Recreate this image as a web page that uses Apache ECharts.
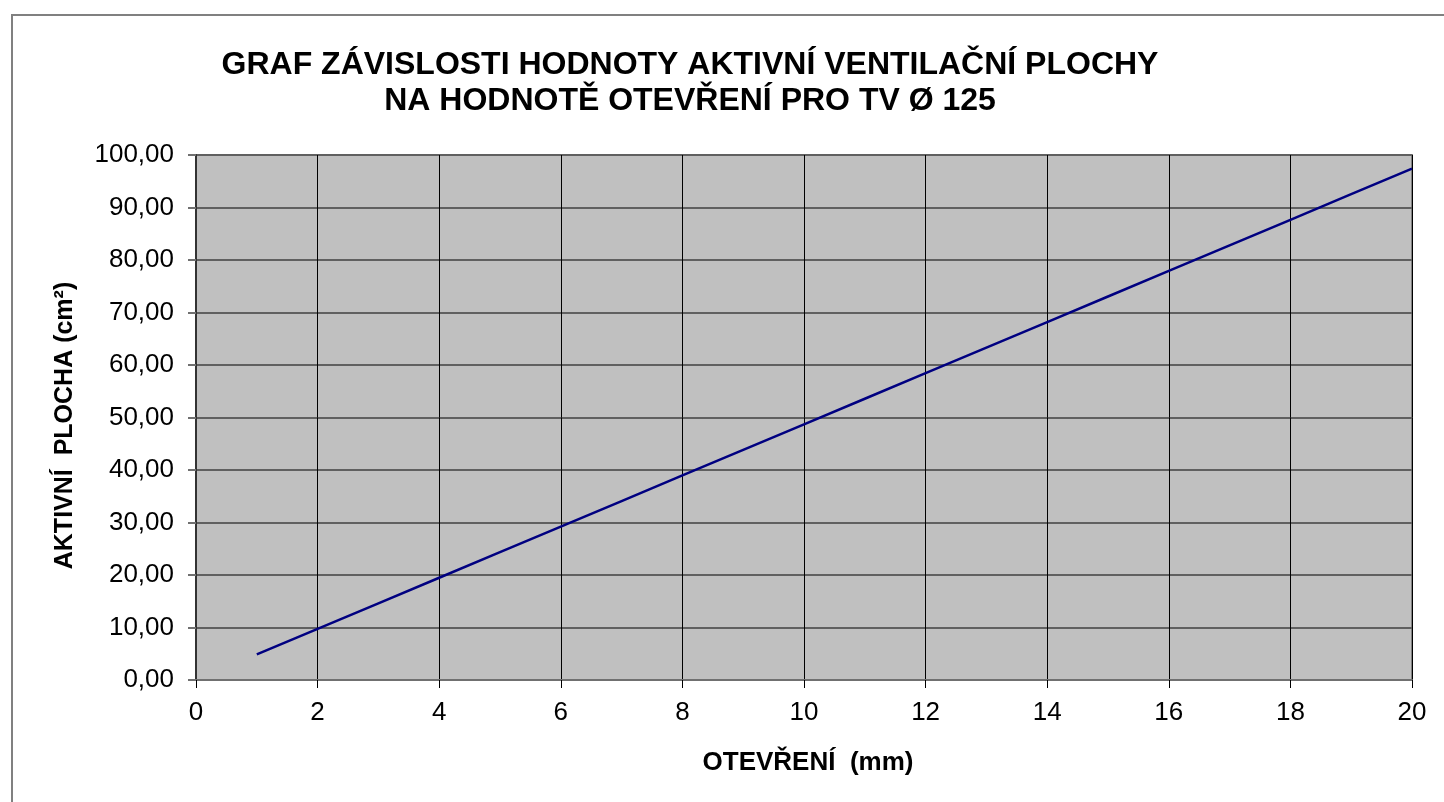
<!DOCTYPE html>
<html>
<head>
<meta charset="utf-8">
<title>Aktivní plocha TV 125</title>
<script src="https://cdn.jsdelivr.net/npm/echarts@6/dist/echarts.min.js"></script>
<style>
  html, body { margin: 0; padding: 0; background: #fff; }
  #main { width: 1444px; height: 802px; }
</style>
</head>
<body>
<div id="main"></div>
<script type="text/javascript">
    // data
    var otevreni = [1, 2, 3, 4, 5, 6, 7, 8, 9, 10, 11, 12, 13, 14, 15, 16, 17, 18, 19, 20];
    var plocha = [4.87, 9.74, 14.61, 19.48, 24.35, 29.22, 34.09, 38.96, 43.83, 48.70,
                  53.57, 58.44, 63.31, 68.18, 73.05, 77.92, 82.79, 87.66, 92.53, 97.40];
    var titleLines = ['GRAF ZÁVISLOSTI HODNOTY AKTIVNÍ VENTILAČNÍ PLOCHY', 'NA HODNOTĚ OTEVŘENÍ PRO TV Ø 125'];

    var seriesData = otevreni.map(function (x, i) { return [x, plocha[i]]; });

    var myChart = echarts.init(document.getElementById('main'));
    var font = '"Liberation Sans", Arial, sans-serif';

    var option = {
        animation: false,
        backgroundColor: '#fff',
        textStyle: { fontFamily: font },
        title: {
            text: titleLines.join('\n'),
            left: 685,
            top: 42,
            textAlign: 'center',
            textStyle: {
                fontFamily: font,
                fontWeight: 'bold',
                fontSize: 32,
                lineHeight: 36,
                color: '#000'
            }
        },
        graphic: [{
            type: 'polyline',
            shape: { points: [[12, 802], [12, 15], [1444, 15]] },
            style: { stroke: '#808080', lineWidth: 2, fill: null },
            silent: true
        }],
        grid: {
            left: 196, right: 32, top: 155, bottom: 122,
            show: true,
            backgroundColor: '#c0c0c0',
            borderColor: '#808080',
            borderWidth: 2
        },
        xAxis: {
            type: 'value',
            min: 0, max: 20, interval: 2,
            name: 'OTEVŘENÍ  (mm)',
            nameLocation: 'middle',
            nameGap: 70,
            nameTextStyle: { fontFamily: font, fontWeight: 'bold', fontSize: 26, color: '#000', padding: [0, 0, 0, 8] },
            axisLine: { lineStyle: { color: '#707070', width: 2 } },
            axisTick: { show: true, length: 8, lineStyle: { color: '#000', width: 1 } },
            axisLabel: { fontFamily: font, fontSize: 26, color: '#000', margin: 20 },
            splitLine: { show: true, lineStyle: { color: '#000', width: 1 } }
        },
        yAxis: {
            type: 'value',
            min: 0, max: 100, interval: 10,
            name: 'AKTIVNÍ  PLOCHA (cm²)',
            nameLocation: 'middle',
            nameGap: 118,
            nameRotate: 90,
            nameTextStyle: { fontFamily: font, fontWeight: 'bold', fontSize: 25, color: '#000', padding: [0, 16, 0, 0] },
            axisLine: { show: true, lineStyle: { color: '#333', width: 2 } },
            axisTick: { show: true, length: 8, lineStyle: { color: '#707070', width: 2 } },
            axisLabel: {
                fontFamily: font, fontSize: 26, color: '#000', margin: 22,
                formatter: function (v) { return v.toFixed(2).replace('.', ','); }
            },
            splitLine: { show: true, lineStyle: { color: '#606060', width: 2 } }
        },
        series: [{
            type: 'line',
            data: seriesData,
            showSymbol: false,
            symbol: 'none',
            lineStyle: { color: '#000080', width: 2.5 },
            z: 5
        }]
    };

    myChart.setOption(option);
</script>
</body>
</html>
